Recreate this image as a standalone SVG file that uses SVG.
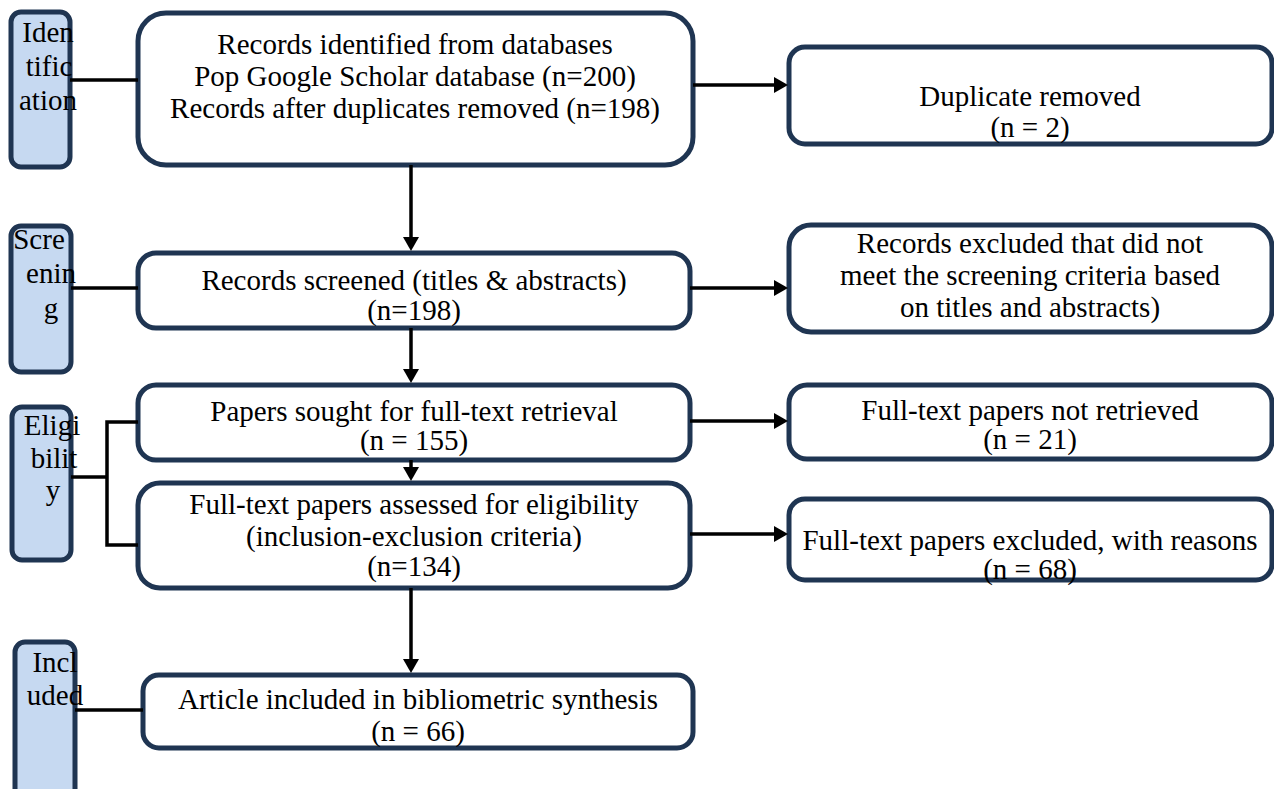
<svg xmlns="http://www.w3.org/2000/svg" width="1274" height="789" viewBox="0 0 1274 789">
<style>
.box{fill:#ffffff;stroke:#1f3552;stroke-width:5}
.lab{fill:#c6d9f1;stroke:#1f3552;stroke-width:5}
.t{font-family:"Liberation Serif","Times New Roman",serif;font-size:29px;fill:#000;text-anchor:middle}
.c{fill:none;stroke:#000;stroke-width:3.5}
</style>
<defs>
<marker id="ah" markerUnits="userSpaceOnUse" markerWidth="15" markerHeight="17" refX="6" refY="8" orient="auto">
<path d="M0,0 L14,8 L0,16 z" fill="#000"/>
</marker>
</defs>
<rect width="1274" height="789" fill="#fff"/>

<g id="label-identification">
<rect class="lab" x="11" y="12" width="59" height="155" rx="10"/>
<text class="t" x="48" y="42">Iden</text>
<text class="t" x="49" y="76">tific</text>
<text class="t" x="48" y="110">ation</text>
</g>
<g id="label-screening">
<rect class="lab" x="11" y="226" width="60" height="146" rx="10"/>
<text class="t" x="39" y="249">Scre</text>
<text class="t" x="51" y="283">enin</text>
<text class="t" x="51" y="318">g</text>
</g>
<g id="label-eligibility">
<rect class="lab" x="12" y="407" width="59" height="153" rx="10"/>
<text class="t" x="52" y="435">Eligi</text>
<text class="t" x="54" y="468">bilit</text>
<text class="t" x="53" y="500">y</text>
</g>
<g id="label-included">
<rect class="lab" x="15" y="642" width="60" height="170" rx="10"/>
<text class="t" x="55" y="672">Incl</text>
<text class="t" x="55" y="705">uded</text>
</g>

<g id="node-identified">
<rect class="box" x="138" y="13" width="555" height="152" rx="28"/>
<text class="t" x="415" y="54">Records identified from databases</text>
<text class="t" x="415" y="86">Pop Google Scholar database (n=200)</text>
<text class="t" x="415" y="118">Records after duplicates removed (n=198)</text>
</g>
<g id="node-duplicate">
<rect class="box" x="789" y="47" width="483" height="97" rx="16"/>
<text class="t" x="1030" y="106">Duplicate removed</text>
<text class="t" x="1030" y="137">(n = 2)</text>
</g>
<g id="node-screened">
<rect class="box" x="138" y="253" width="552" height="75" rx="18"/>
<text class="t" x="414" y="290">Records screened (titles &amp; abstracts)</text>
<text class="t" x="414" y="320">(n=198)</text>
</g>
<g id="node-excluded-screening">
<rect class="box" x="789" y="225" width="483" height="107" rx="22"/>
<text class="t" x="1030" y="253">Records excluded that did not</text>
<text class="t" x="1030" y="285">meet the screening criteria based</text>
<text class="t" x="1030" y="317">on titles and abstracts)</text>
</g>
<g id="node-sought">
<rect class="box" x="138" y="385" width="552" height="75" rx="18"/>
<text class="t" x="414" y="421">Papers sought for full-text retrieval</text>
<text class="t" x="414" y="450">(n = 155)</text>
</g>
<g id="node-not-retrieved">
<rect class="box" x="789" y="385" width="483" height="74" rx="18"/>
<text class="t" x="1030" y="420">Full-text papers not retrieved</text>
<text class="t" x="1030" y="449">(n = 21)</text>
</g>
<g id="node-assessed">
<rect class="box" x="138" y="483" width="552" height="105" rx="22"/>
<text class="t" x="414" y="514">Full-text papers assessed for eligibility</text>
<text class="t" x="414" y="546">(inclusion-exclusion criteria)</text>
<text class="t" x="414" y="576">(n=134)</text>
</g>
<g id="node-excluded-reasons">
<rect class="box" x="789" y="499" width="483" height="81" rx="16"/>
<text class="t" x="1030" y="550">Full-text papers excluded, with reasons</text>
<text class="t" x="1030" y="579">(n = 68)</text>
</g>
<g id="node-included">
<rect class="box" x="143" y="675" width="550" height="73" rx="16"/>
<text class="t" x="418" y="709">Article included in bibliometric synthesis</text>
<text class="t" x="418" y="741">(n = 66)</text>
</g>

<g id="connectors">
<line class="c" x1="70" y1="80" x2="138" y2="80"/>
<line class="c" x1="71" y1="288" x2="138" y2="288"/>
<polyline class="c" points="71,477 107,477"/>
<polyline class="c" points="138,422 107,422 107,545 138,545"/>
<line class="c" x1="75" y1="710" x2="143" y2="710"/>
<line class="c" x1="411" y1="165" x2="411" y2="243" marker-end="url(#ah)"/>
<line class="c" x1="411" y1="328" x2="411" y2="375" marker-end="url(#ah)"/>
<line class="c" x1="411" y1="460" x2="411" y2="473" marker-end="url(#ah)"/>
<line class="c" x1="411" y1="588" x2="411" y2="665" marker-end="url(#ah)"/>
<line class="c" x1="693" y1="85" x2="780" y2="85" marker-end="url(#ah)"/>
<line class="c" x1="690" y1="288" x2="780" y2="288" marker-end="url(#ah)"/>
<line class="c" x1="690" y1="421" x2="780" y2="421" marker-end="url(#ah)"/>
<line class="c" x1="690" y1="534" x2="780" y2="534" marker-end="url(#ah)"/>
</g>
</svg>
